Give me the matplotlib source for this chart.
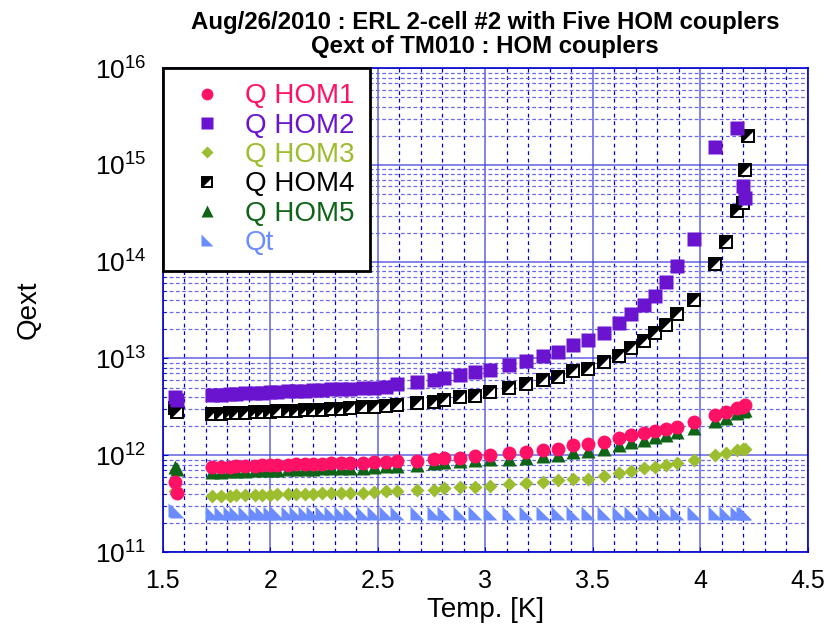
import numpy as np
import matplotlib
matplotlib.use("Agg")
import matplotlib.pyplot as plt
from matplotlib.ticker import MultipleLocator, LogLocator, NullFormatter
from matplotlib.legend_handler import HandlerTuple

plt.rcParams['font.family'] = ['Liberation Sans', 'DejaVu Sans']
plt.rcParams['mathtext.default'] = 'regular'

nan = np.nan

# temperature [K]
temp = [1.555, 1.565, 1.73, 1.77, 1.81, 1.84, 1.88, 1.93, 1.96, 2.00,
        2.03, 2.08, 2.12, 2.16, 2.20, 2.24, 2.28, 2.33, 2.37, 2.43,
        2.48, 2.54, 2.59, 2.68, 2.76, 2.81, 2.88, 2.95, 3.02, 3.11,
        3.19, 3.27, 3.34, 3.41, 3.48, 3.55, 3.62, 3.68, 3.74, 3.79,
        3.84, 3.89, 3.97, 4.07, 4.12, 4.17, 4.20, 4.21, 4.22]

q_hom1 = [5.25e11, 4.07e11, 7.59e11, 7.59e11, 7.59e11, 7.76e11, 7.76e11, 7.76e11, 7.94e11, 7.94e11,
          7.94e11, 7.94e11, 8.13e11, 8.13e11, 8.13e11, 8.13e11, 8.32e11, 8.32e11, 8.32e11, 8.32e11,
          8.51e11, 8.51e11, 8.71e11, 8.71e11, 9.12e11, 9.33e11, 9.33e11, 9.77e11, 1.00e12, 1.05e12,
          1.07e12, 1.12e12, 1.17e12, 1.29e12, 1.32e12, 1.38e12, 1.51e12, 1.62e12, 1.70e12, 1.78e12,
          1.86e12, 1.95e12, 2.19e12, 2.63e12, 2.82e12, 3.09e12, 3.16e12, 3.31e12, nan]

q_hom2 = [4.00e12, 3.70e12, 4.17e12, 4.17e12, 4.27e12, 4.27e12, 4.37e12, 4.37e12, 4.37e12, 4.47e12,
          4.47e12, 4.57e12, 4.57e12, 4.57e12, 4.68e12, 4.68e12, 4.79e12, 4.79e12, 4.79e12, 4.90e12,
          5.01e12, 5.13e12, 5.50e12, 5.75e12, 6.03e12, 6.31e12, 6.76e12, 7.24e12, 7.59e12, 8.51e12,
          9.33e12, 1.05e13, 1.17e13, 1.38e13, 1.55e13, 1.82e13, 2.34e13, 2.88e13, 3.55e13, 4.47e13,
          6.17e13, 9.12e13, 1.70e14, 1.55e15, nan, 2.40e15, 6.03e14, 4.57e14, nan]

q_hom3 = [4.27e11, 4.17e11, 3.80e11, 3.80e11, 3.80e11, 3.89e11, 3.89e11, 3.89e11, 3.89e11, 3.89e11,
          3.98e11, 3.98e11, 3.98e11, 3.98e11, 3.98e11, 4.07e11, 4.07e11, 4.07e11, 4.07e11, 4.07e11,
          4.17e11, 4.27e11, 4.27e11, 4.37e11, 4.37e11, 4.57e11, 4.68e11, 4.68e11, 4.79e11, 5.01e11,
          5.13e11, 5.25e11, 5.50e11, 5.75e11, 5.75e11, 6.17e11, 6.61e11, 6.92e11, 7.41e11, 7.59e11,
          7.94e11, 8.32e11, 8.91e11, 1.00e12, 1.05e12, 1.12e12, 1.15e12, 1.17e12, nan]

q_hom4 = [3.09e12, 2.82e12, 2.69e12, 2.69e12, 2.75e12, 2.75e12, 2.75e12, 2.82e12, 2.82e12, 2.82e12,
          2.88e12, 2.88e12, 2.88e12, 2.95e12, 2.95e12, 2.95e12, 3.02e12, 3.02e12, 3.09e12, 3.16e12,
          3.16e12, 3.24e12, 3.31e12, 3.47e12, 3.55e12, 3.72e12, 3.98e12, 4.07e12, 4.47e12, 4.90e12,
          5.50e12, 6.03e12, 6.46e12, 7.41e12, 7.76e12, 9.12e12, 1.07e13, 1.29e13, 1.51e13, 1.82e13,
          2.24e13, 2.88e13, 3.98e13, 9.55e13, 1.58e14, 3.31e14, 4.07e14, 8.91e14, 2.00e15]

q_hom5 = [7.59e11, 7.24e11, 6.76e11, 6.76e11, 6.92e11, 6.92e11, 6.92e11, 7.08e11, 7.08e11, 7.08e11,
          7.08e11, 7.24e11, 7.24e11, 7.24e11, 7.24e11, 7.41e11, 7.41e11, 7.41e11, 7.41e11, 7.41e11,
          7.59e11, 7.76e11, 7.76e11, 7.94e11, 8.32e11, 8.51e11, 8.71e11, 8.91e11, 9.12e11, 9.12e11,
          9.33e11, 9.77e11, 1.00e12, 1.07e12, 1.10e12, 1.17e12, 1.29e12, 1.38e12, 1.45e12, 1.55e12,
          1.62e12, 1.74e12, 1.91e12, 2.24e12, 2.40e12, 2.75e12, 2.88e12, 2.95e12, nan]

q_t = [2.75e11, 2.63e11, 2.51e11, 2.51e11, 2.51e11, 2.51e11, 2.51e11, 2.51e11, 2.51e11, 2.51e11,
       2.51e11, 2.51e11, 2.51e11, 2.51e11, 2.51e11, 2.51e11, 2.51e11, 2.51e11, 2.51e11, 2.51e11,
       2.51e11, 2.51e11, 2.51e11, 2.51e11, 2.51e11, 2.51e11, 2.51e11, 2.51e11, 2.51e11, 2.51e11,
       2.51e11, 2.51e11, 2.51e11, 2.51e11, 2.51e11, 2.51e11, 2.51e11, 2.51e11, 2.51e11, 2.51e11,
       2.51e11, 2.51e11, 2.51e11, 2.51e11, 2.51e11, 2.51e11, 2.51e11, 2.51e11, nan]

c_hom1 = '#ff1166'
c_hom2 = '#6a14d0'
c_hom3 = '#9cbd2e'
c_hom5 = '#0f6418'
c_qt = '#6b8cff'
c_grid = '#3a3ad8'

tri_lower = [(-1, 1), (-1, -1), (1, -1)]
tri_upper = [(-1, -1), (-1, 1), (1, 1)]

fig = plt.figure(figsize=(8.31, 6.37), dpi=100)
ax = fig.add_axes([0.196, 0.1334, 0.776, 0.7596])

l_qt, = ax.plot(temp, q_t, ls='none', marker=tri_lower, ms=10, color=c_qt, mec='none')
l_h3, = ax.plot(temp, q_hom3, ls='none', marker='D', ms=7, color=c_hom3, mec='none')
l_h5, = ax.plot(temp, q_hom5, ls='none', marker='^', ms=10.5, color=c_hom5, mec='none')
l_h1, = ax.plot(temp, q_hom1, ls='none', marker='o', ms=10, color=c_hom1, mec='none')
l_h4a, = ax.plot(temp, q_hom4, ls='none', marker='s', ms=8.5, mfc='white', mec='black', mew=1.4)
l_h4b, = ax.plot(temp, q_hom4, ls='none', marker=tri_upper, ms=8.5, color='black', mec='none')
l_h2, = ax.plot(temp, q_hom2, ls='none', marker='s', ms=9.5, color=c_hom2, mec='none')

ax.set_yscale('log')
ax.set_xlim(1.5, 4.5)
ax.set_ylim(1e11, 1e16)
ax.xaxis.set_major_locator(MultipleLocator(0.5))
ax.xaxis.set_minor_locator(MultipleLocator(0.1))
ax.yaxis.set_major_locator(LogLocator(base=10))
ax.yaxis.set_minor_locator(LogLocator(base=10, subs=range(2, 10)))
ax.yaxis.set_minor_formatter(NullFormatter())
ax.set_xticks([1.5, 2, 2.5, 3, 3.5, 4, 4.5])
ax.set_xticklabels(['1.5', '2', '2.5', '3', '3.5', '4', '4.5'])

ax.set_axisbelow(True)
ax.grid(which='major', color=c_grid, ls='-', lw=1.1, alpha=0.8)
ax.xaxis.grid(which='minor', color='#0000d0', ls=(0, (3, 3)), lw=0.9)
ax.yaxis.grid(which='minor', color='#6a6ae8', ls=(0, (3, 2)), lw=0.9)

for s in ax.spines.values():
    s.set_color('#0000cc')
    s.set_linewidth(1.2)
ax.tick_params(which='both', direction='in', colors='#0000cc', labelcolor='black')
ax.tick_params(axis='x', labelsize=18, pad=12)
ax.tick_params(axis='y', labelsize=19, pad=12)

ax.set_xlabel('Temp. [K]', fontsize=20, labelpad=3)
ax.set_ylabel('Qext', fontsize=20, labelpad=38)
ax.set_title('Aug/26/2010 : ERL 2-cell #2 with Five HOM couplers\nQext of TM010 : HOM couplers',
             fontsize=17.3, fontweight='bold', linespacing=1.05, pad=11)

handles = [l_h1, l_h2, l_h3, (l_h4a, l_h4b), l_h5, l_qt]
labels = ['Q HOM1', 'Q HOM2', 'Q HOM3', 'Q HOM4', 'Q HOM5', 'Qt']
leg = ax.legend(handles, labels, loc='upper left', bbox_to_anchor=(0, 1), borderaxespad=0,
                fontsize=20, numpoints=1, handlelength=2.1, handletextpad=0.3,
                labelspacing=0.12, borderpad=0.55, fancybox=False, markerscale=0.85,
                handler_map={tuple: HandlerTuple(ndivide=1)})
leg.get_frame().set_edgecolor('black')
leg.get_frame().set_linewidth(2)
leg.get_frame().set_alpha(1)
for txt, col in zip(leg.get_texts(), [c_hom1, c_hom2, c_hom3, 'black', c_hom5, c_qt]):
    txt.set_color(col)

fig.savefig('out.png', dpi=100)
